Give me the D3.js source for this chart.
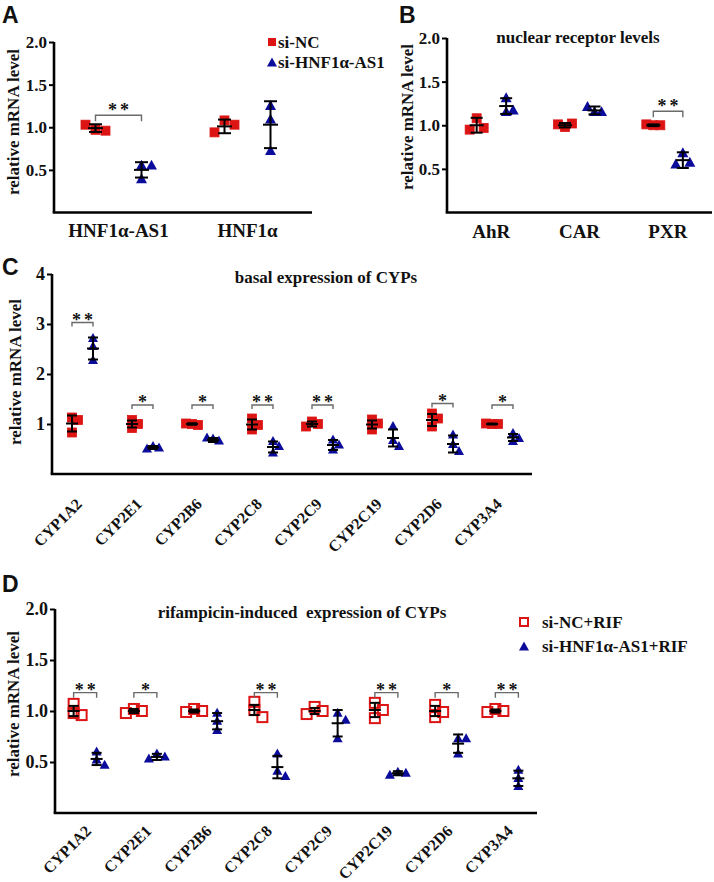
<!DOCTYPE html>
<html><head><meta charset="utf-8">
<script src="https://cdn.jsdelivr.net/npm/d3@7"></script>
<style>
body{margin:0;background:#fff;}
svg text{font-family:"Liberation Serif","Times New Roman",serif;font-weight:bold;fill:#111;}
svg text.letter{font-family:"Liberation Sans",Arial,sans-serif;font-weight:bold;}
</style></head><body>
<svg id="chart" width="714" height="882"></svg>
<script>
// ---------- Panel A ----------
const A_categories = ["HNF1α-AS1", "HNF1α"];
const A_siNC = [[0.97, 0.96, 1.03], [1.08, 1.03, 0.94]];
const A_siNC_mean = [0.99, 1.01];
const A_siNC_sd = [0.045, 0.08];
const A_siHNF = [[0.55, 0.55, 0.39], [1.25, 1.09, 0.72]];
const A_siHNF_mean = [0.50, 1.03];
const A_siHNF_sd = [0.09, 0.275];
const A_sig = ["**", ""];
const A_sigLevel = [1.14, null];
const A_yTicks = [0.5, 1.0, 1.5, 2.0];
const A_legend = ["si-NC", "si-HNF1α-AS1"];

// ---------- Panel B ----------
const B_title = "nuclear receptor levels";
const B_categories = ["AhR", "CAR", "PXR"];
const B_siNC = [[1.08, 0.97, 0.95], [0.98, 1.02, 1.01], [1.00, 1.00, 1.01]];
const B_siNC_mean = [1.00, 1.00, 1.00];
const B_siNC_sd = [0.085, 0.025, 0.01];
const B_siHNF = [[1.31, 1.17, 1.15], [1.15, 1.15, 1.21], [0.68, 0.57, 0.55]];
const B_siHNF_mean = [1.22, 1.17, 0.60];
const B_siHNF_sd = [0.09, 0.045, 0.09];
const B_sig = ["", "", "**"];
const B_sigLevel = [null, null, 1.16];
const B_yTicks = [0.5, 1.0, 1.5, 2.0];

// ---------- Panel C ----------
const C_title = "basal expression of CYPs";
const C_categories = ["CYP1A2", "CYP2E1", "CYP2B6", "CYP2C8", "CYP2C9", "CYP2C19", "CYP2D6", "CYP3A4"];
const C_siNC = [[1.13, 1.08, 0.83], [1.08, 1.00, 0.92], [1.00, 0.98, 1.01], [1.11, 0.98, 0.89], [1.05, 1.00, 0.95], [1.09, 1.01, 0.89], [1.21, 1.11, 0.95], [1.00, 1.00, 1.01]];
const C_siNC_mean = [1.01, 1.00, 1.00, 0.99, 1.00, 0.99, 1.08, 1.00];
const C_siNC_sd = [0.16, 0.07, 0.015, 0.10, 0.05, 0.08, 0.12, 0.01];
const C_siHNF = [[2.71, 2.55, 2.27], [0.55, 0.52, 0.50], [0.70, 0.66, 0.72], [0.65, 0.55, 0.42], [0.68, 0.58, 0.48], [0.95, 0.67, 0.55], [0.78, 0.59, 0.45], [0.81, 0.71, 0.65]];
const C_siHNF_mean = [2.51, 0.53, 0.68, 0.54, 0.58, 0.72, 0.60, 0.73];
const C_siHNF_sd = [0.22, 0.03, 0.04, 0.11, 0.10, 0.17, 0.17, 0.07];
const C_sig = ["**", "*", "*", "**", "**", "", "*", "*"];
const C_sigLevel = [3.03, 1.38, 1.38, 1.38, 1.38, null, 1.41, 1.38];
const C_yTicks = [1, 2, 3, 4];

// ---------- Panel D ----------
const D_title = "rifampicin-induced  expression of CYPs";
const D_categories = ["CYP1A2", "CYP2E1", "CYP2B6", "CYP2C8", "CYP2C9", "CYP2C19", "CYP2D6", "CYP3A4"];
const D_siNC = [[1.07, 0.98, 0.96], [1.02, 1.00, 0.98], [1.02, 1.00, 0.99], [1.09, 1.01, 0.94], [1.04, 1.00, 0.97], [1.08, 0.93, 1.01], [1.06, 0.99, 0.94], [1.02, 1.00, 0.99]];
const D_siNC_mean = [1.00, 1.00, 1.00, 1.01, 1.00, 1.01, 1.00, 1.00];
const D_siNC_sd = [0.05, 0.02, 0.015, 0.05, 0.03, 0.07, 0.05, 0.015];
const D_siHNF = [[0.60, 0.52, 0.47], [0.58, 0.55, 0.53], [0.98, 0.90, 0.81], [0.58, 0.41, 0.36], [0.98, 0.91, 0.73], [0.40, 0.39, 0.37], [0.73, 0.73, 0.58], [0.42, 0.34, 0.26]];
const D_siHNF_mean = [0.53, 0.55, 0.90, 0.45, 0.88, 0.39, 0.68, 0.34];
const D_siHNF_sd = [0.06, 0.03, 0.08, 0.11, 0.13, 0.02, 0.09, 0.075];
const D_sig = ["**", "*", "", "**", "", "**", "*", "**"];
const D_sigLevel = [1.18, 1.18, null, 1.18, null, 1.18, 1.18, 1.18];
const D_yTicks = [0.5, 1.0, 1.5, 2.0];
const D_legend = ["si-NC+RIF", "si-HNF1α-AS1+RIF"];

const yLabel = "relative mRNA level";
const RED = "#dc1414", BLUE = "#0c0c9c";

const svg = d3.select("#chart");

function triPath(w) {
  const h = w * 0.9;
  return `M0,${-h * 0.6}L${w / 2},${h * 0.4}L${-w / 2},${h * 0.4}Z`;
}

function swarm(vals, y, step, thr) {
  const placed = [];
  return vals.map(v => {
    const py = y(v);
    const cands = [0, step, -step, 2 * step, -2 * step];
    for (const c of cands) {
      if (!placed.some(p => Math.abs(p.dx - c) < step * 0.9 && Math.abs(p.py - py) < thr)) {
        placed.push({dx: c, py});
        return {v, dx: c};
      }
    }
    placed.push({dx: 0, py});
    return {v, dx: 0};
  });
}

function drawPanel(o) {
  const g = svg.append("g");
  const y = d3.scaleLinear().domain([0, o.yMax]).range([o.bottom, o.top]);
  const x = d3.scaleBand().domain(o.cats).range([o.left, o.right]);
  const cx = c => x(c) + x.bandwidth() / 2;

  const ya = g.append("g").attr("transform", `translate(${o.left},0)`)
    .call(d3.axisLeft(y).tickValues(o.yTicks).tickFormat(o.fmt).tickSize(5).tickPadding(2).tickSizeOuter(0));
  ya.select(".domain").attr("stroke", "#000").attr("stroke-width", 2.6).attr("d", `M0,${o.top}V${o.bottom}`);
  ya.selectAll(".tick line").attr("stroke", "#000").attr("stroke-width", 2);
  ya.selectAll(".tick text").attr("font-size", o.tickFont).attr("font-family", null).attr("fill", "#111");

  const xa = g.append("g").attr("transform", `translate(0,${o.bottom})`)
    .call(d3.axisBottom(x).tickSize(0).tickSizeOuter(0));
  xa.select(".domain").attr("stroke", "#000").attr("stroke-width", 2.6)
    .attr("d", `M${o.left - 1.3},0H${o.right}`);
  xa.selectAll(".tick text").remove();
  xa.selectAll(".tick").each(function(d) {
    const t = d3.select(this).append("text").attr("font-size", o.xFont).attr("fill", "#111").text(d);
    if (o.rotate) {
      t.attr("text-anchor", "end").attr("transform", `translate(${o.rotDx},${o.rotDy}) rotate(-45)`);
    } else {
      t.attr("text-anchor", "middle").attr("y", o.xPad);
    }
  });

  g.append("text").attr("transform", `translate(${o.ylabX},${o.ylabY}) rotate(-90)`)
    .attr("text-anchor", "middle").attr("font-size", o.ylabFont).text(yLabel);

  if (o.title) {
    g.append("text").attr("x", o.titleX).attr("y", o.titleY).attr("text-anchor", "middle")
      .attr("font-size", 17).style("white-space", "pre").attr("xml:space", "preserve").text(o.title);
  }

  o.cats.forEach((c, i) => {
    const xr = cx(c) + o.offR, xb = cx(c) + o.offB;
    const rp = swarm(o.nc[i], y, o.step, o.thr);
    rp.forEach(p => {
      const s = o.sq;
      g.append("rect").attr("x", xr + p.dx - s / 2).attr("y", y(p.v) - s / 2)
        .attr("width", s).attr("height", s)
        .attr("fill", o.open ? "none" : RED).attr("stroke", RED).attr("stroke-width", o.open ? 2 : 0.8);
    });
    const bp = swarm(o.si[i], y, o.step, o.thr);
    bp.forEach(p => {
      g.append("path").attr("d", triPath(o.tri))
        .attr("transform", `translate(${xb + p.dx},${y(p.v)})`).attr("fill", BLUE);
    });
    [[xr, o.ncMean[i], o.ncSD[i]], [xb, o.siMean[i], o.siSD[i]]].forEach(([xx, m, sd]) => {
      const eg = g.append("g").attr("stroke", "#000").attr("stroke-width", 2);
      eg.append("line").attr("x1", xx).attr("x2", xx).attr("y1", y(m - sd)).attr("y2", y(m + sd));
      [m - sd, m + sd].forEach(v => eg.append("line").attr("x1", xx - o.cap / 2).attr("x2", xx + o.cap / 2).attr("y1", y(v)).attr("y2", y(v)));
      eg.append("line").attr("x1", xx - o.cap / 2 - 1).attr("x2", xx + o.cap / 2 + 1).attr("y1", y(m)).attr("y2", y(m));
    });
    if (o.sig[i]) {
      const by = y(o.sigLevel[i]);
      g.append("path").attr("d", `M${xr},${by + o.tick}V${by}H${xb}V${by + o.tick}`)
        .attr("fill", "none").attr("stroke", "#6a6a6a").attr("stroke-width", 1.4);
      g.append("text").attr("x", (xr + xb) / 2 + 1.5).attr("y", by + o.starDy).attr("text-anchor", "middle")
        .attr("font-size", 18).attr("font-weight", "normal").attr("letter-spacing", 3).attr("fill", "#222")
        .text(o.sig[i]);
    }
  });
  return {x, y};
}

drawPanel({cats: A_categories, nc: A_siNC, si: A_siHNF, ncMean: A_siNC_mean, ncSD: A_siNC_sd,
  siMean: A_siHNF_mean, siSD: A_siHNF_sd, sig: A_sig, sigLevel: A_sigLevel,
  left: 54, right: 312, top: 42, bottom: 212.5, yMax: 2, yTicks: A_yTicks, fmt: d3.format(".1f"),
  tickFont: 17, xFont: 19, xPad: 24, rotate: false, ylabX: 19, ylabY: 122, ylabFont: 17,
  offR: -23, offB: 23, step: 10, thr: 13, sq: 9, tri: 11, cap: 13, tick: 6, starDy: 1});

drawPanel({cats: B_categories, nc: B_siNC, si: B_siHNF, ncMean: B_siNC_mean, ncSD: B_siNC_sd,
  siMean: B_siHNF_mean, siSD: B_siHNF_sd, sig: B_sig, sigLevel: B_sigLevel,
  left: 447, right: 712, top: 38, bottom: 212.5, yMax: 2, yTicks: B_yTicks, fmt: d3.format(".1f"),
  tickFont: 17, xFont: 19, xPad: 25, rotate: false, ylabX: 413, ylabY: 117, ylabFont: 17,
  title: B_title, titleX: 578, titleY: 43,
  offR: -14.5, offB: 15, step: 7, thr: 13, sq: 9, tri: 11, cap: 12, tick: 6, starDy: 1});

drawPanel({cats: C_categories, nc: C_siNC, si: C_siHNF, ncMean: C_siNC_mean, ncSD: C_siNC_sd,
  siMean: C_siHNF_mean, siSD: C_siHNF_sd, sig: C_sig, sigLevel: C_sigLevel,
  left: 52, right: 532, top: 274, bottom: 474, yMax: 4, yTicks: C_yTicks, fmt: d3.format("d"),
  tickFont: 18, xFont: 16, rotate: true, rotDx: 1, rotDy: 31, ylabX: 21, ylabY: 372, ylabFont: 17,
  title: C_title, titleX: 326, titleY: 283,
  offR: -10, offB: 11, step: 6, thr: 8, sq: 9, tri: 10, cap: 10, tick: 4, starDy: 3});

drawPanel({cats: D_categories, nc: D_siNC, si: D_siHNF, ncMean: D_siNC_mean, ncSD: D_siNC_sd,
  siMean: D_siHNF_mean, siSD: D_siHNF_sd, sig: D_sig, sigLevel: D_sigLevel,
  left: 55, right: 537, top: 609, bottom: 813, yMax: 2, yTicks: D_yTicks, fmt: d3.format(".1f"),
  tickFont: 18, xFont: 16, rotate: true, rotDx: 7, rotDy: 19, ylabX: 19, ylabY: 704, ylabFont: 17,
  title: D_title, titleX: 302, titleY: 618,
  offR: -11.5, offB: 11.5, step: 8, thr: 8, sq: 10, tri: 10, cap: 10, tick: 5, starDy: 3, open: true});

svg.append("rect").attr("x", 268).attr("y", 38).attr("width", 8).attr("height", 8).attr("fill", RED);
svg.append("text").attr("x", 278).attr("y", 48).attr("font-size", 17).text(A_legend[0]);
svg.append("path").attr("d", triPath(10)).attr("transform", "translate(272,63)").attr("fill", BLUE);
svg.append("text").attr("x", 278).attr("y", 68).attr("font-size", 17).text(A_legend[1]);

svg.append("rect").attr("x", 520).attr("y", 618).attr("width", 8).attr("height", 8)
  .attr("fill", "none").attr("stroke", RED).attr("stroke-width", 2);
svg.append("text").attr("x", 542).attr("y", 628).attr("font-size", 17).text(D_legend[0]);
svg.append("path").attr("d", triPath(10)).attr("transform", "translate(524,647)").attr("fill", BLUE);
svg.append("text").attr("x", 542).attr("y", 652).attr("font-size", 17).text(D_legend[1]);

[["A", 2, 23], ["B", 399, 23], ["C", 2, 275], ["D", 2, 592]].forEach(([t, xx, yy]) => {
  svg.append("text").attr("class", "letter").attr("x", xx).attr("y", yy).attr("font-size", 23).text(t);
});
</script>
</body></html>
